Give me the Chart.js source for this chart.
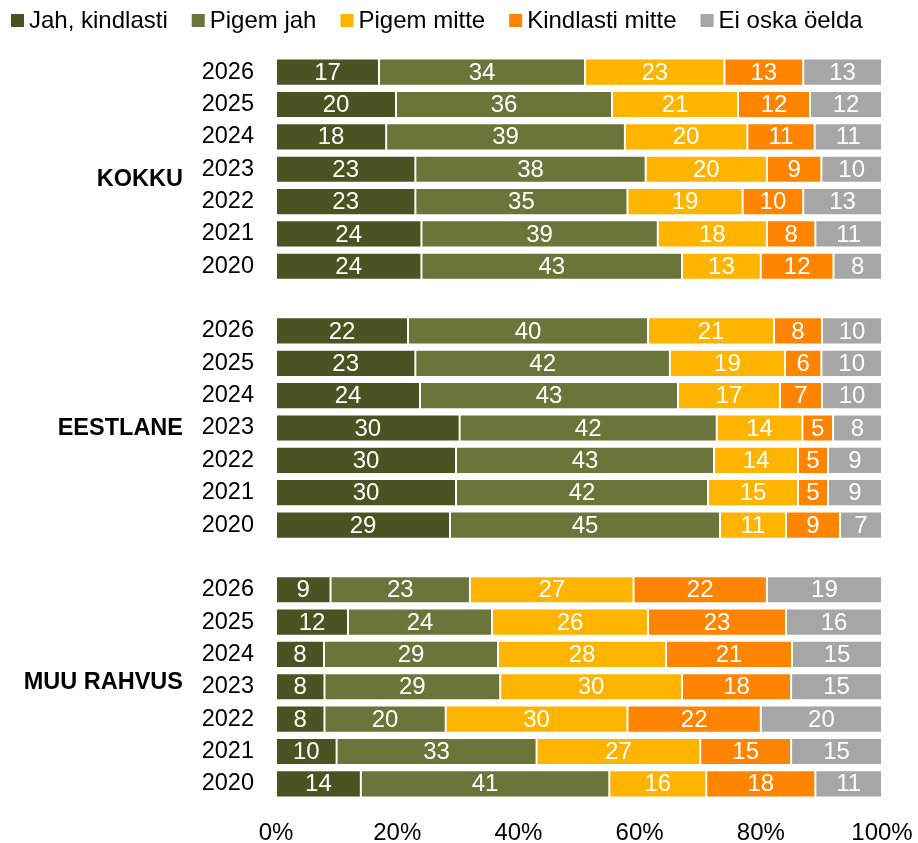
<!DOCTYPE html>
<html>
<head>
<meta charset="utf-8">
<script src="https://cdn.jsdelivr.net/npm/chart.js@4/dist/chart.umd.min.js"></script>
<style>
  body { margin: 0; background: #fff; }
  #wrap { width: 918px; height: 843px; position: relative; }
</style>
</head>
<body>
<div id="wrap"><canvas id="surveyChart"></canvas></div>
<script>
// groups and years, top to bottom
const groups = ['KOKKU', 'EESTLANE', 'MUU RAHVUS'];
const years = ['2026', '2025', '2024', '2023', '2022', '2021', '2020'];
const xTicks = [0, 20, 40, 60, 80, 100];

// one value per row, in the order KOKKU 2026..2020, EESTLANE 2026..2020, MUU RAHVUS 2026..2020
const jahKindlasti   = [17, 20, 18, 23, 23, 24, 24,  22, 23, 24, 30, 30, 30, 29,  9, 12, 8, 8, 8, 10, 14];
const pigemJah       = [34, 36, 39, 38, 35, 39, 43,  40, 42, 43, 42, 43, 42, 45,  23, 24, 29, 29, 20, 33, 41];
const pigemMitte     = [23, 21, 20, 20, 19, 18, 13,  21, 19, 17, 14, 14, 15, 11,  27, 26, 28, 30, 30, 27, 16];
const kindlastiMitte = [13, 12, 11, 9, 10, 8, 12,    8, 6, 7, 5, 5, 5, 9,         22, 23, 21, 18, 22, 15, 18];
const eiOska         = [13, 12, 11, 10, 13, 11, 8,   10, 10, 10, 8, 9, 9, 7,      19, 16, 15, 15, 20, 15, 11];

const seriesNames = ['Jah, kindlasti', 'Pigem jah', 'Pigem mitte', 'Kindlasti mitte', 'Ei oska öelda'];
const seriesColors = ['#4b5322', '#6b7439', '#ffb400', '#ff8500', '#a6a6a6'];
const allSeries = [jahKindlasti, pigemJah, pigemMitte, kindlastiMitte, eiOska];

const FONT = '"Liberation Sans", Arial, sans-serif';

// build category labels with an empty row between groups
const labels = [];
const rowIndex = []; // category index -> data row (or -1 for gap)
const groupMiddle = [];
groups.forEach((g, gi) => {
  if (gi > 0) { labels.push(''); rowIndex.push(-1); }
  years.forEach((y, yi) => {
    if (yi === 3) groupMiddle.push(labels.length);
    labels.push(y);
    rowIndex.push(gi * years.length + yi);
  });
});
// small vertical nudge of the group names, px
const groupNameShift = [10, 1, -4];

// rows are drawn as 100% bars
const rowSums = jahKindlasti.map((_, r) => allSeries.reduce((s, arr) => s + arr[r], 0));

const datasets = allSeries.map((arr, si) => ({
  label: seriesNames[si],
  data: rowIndex.map(r => r < 0 ? null : arr[r] / rowSums[r] * 100),
  rawValues: rowIndex.map(r => r < 0 ? null : arr[r]),
  backgroundColor: seriesColors[si],
  borderColor: 'rgba(255,255,255,0.35)',
  borderWidth: 1,
  borderSkipped: false,
  barPercentage: 0.84,
  categoryPercentage: 1
}));

// white value labels inside the bar segments
const valueLabels = {
  id: 'valueLabels',
  afterDatasetsDraw(chart) {
    const ctx = chart.ctx;
    ctx.save();
    ctx.fillStyle = '#fff';
    ctx.font = '24px ' + FONT;
    ctx.textAlign = 'center';
    ctx.textBaseline = 'middle';
    chart.data.datasets.forEach((ds, di) => {
      chart.getDatasetMeta(di).data.forEach((bar, i) => {
        const v = ds.rawValues[i];
        if (v == null) return;
        ctx.fillText(String(v), (bar.x + bar.base) / 2, bar.y + 1);
      });
    });
    ctx.restore();
  }
};

// bold group names left of the years
const groupNames = {
  id: 'groupNames',
  afterDraw(chart) {
    const ctx = chart.ctx;
    const yScale = chart.scales.y;
    ctx.save();
    ctx.fillStyle = '#000';
    ctx.font = 'bold 23.5px ' + FONT;
    ctx.textAlign = 'right';
    ctx.textBaseline = 'middle';
    groups.forEach((g, gi) => {
      ctx.fillText(g, 183, yScale.getPixelForValue(groupMiddle[gi]) + groupNameShift[gi]);
    });
    ctx.restore();
  }
};

// legend across the top
const topLegend = {
  id: 'topLegend',
  afterDraw(chart) {
    const ctx = chart.ctx;
    ctx.save();
    ctx.font = '24px ' + FONT;
    ctx.textBaseline = 'middle';
    ctx.textAlign = 'left';
    let x = 11;
    chart.data.datasets.forEach(ds => {
      ctx.fillStyle = ds.backgroundColor;
      ctx.fillRect(x, 14, 13, 13);
      ctx.fillStyle = '#000';
      ctx.fillText(ds.label, x + 18, 21);
      x += 18 + ctx.measureText(ds.label).width + 24;
    });
    ctx.restore();
  }
};

const ctx = document.getElementById('surveyChart').getContext('2d');
new Chart(ctx, {
  type: 'bar',
  data: { labels: labels, datasets: datasets },
  options: {
    indexAxis: 'y',
    responsive: true,
    maintainAspectRatio: false,
    animation: false,
    layout: { padding: { top: 56, right: 36, left: 0, bottom: 0 } },
    plugins: {
      legend: { display: false },
      tooltip: { enabled: false }
    },
    scales: {
      x: {
        stacked: true,
        min: 0,
        max: 100,
        afterBuildTicks: s => { s.ticks = xTicks.map(v => ({ value: v })); },
        afterFit: s => { s.height = 43; s.paddingLeft = 0; s.paddingRight = 0; },
        grid: { display: false, drawTicks: false },
        border: { display: false },
        ticks: {
          padding: 19,
          color: '#000',
          font: { family: FONT, size: 24 },
          callback: v => v + '%'
        }
      },
      y: {
        stacked: true,
        afterFit: s => { s.width = 276; },
        grid: { display: false, drawTicks: false },
        border: { display: false },
        ticks: {
          padding: 22,
          color: '#000',
          autoSkip: false,
          font: { family: FONT, size: 23.5 }
        }
      }
    }
  },
  plugins: [valueLabels, groupNames, topLegend]
});
</script>
</body>
</html>
